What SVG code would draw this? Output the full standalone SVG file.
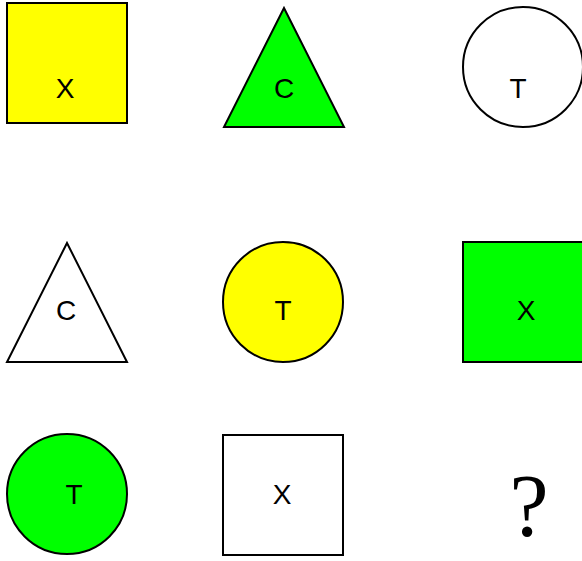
<svg xmlns="http://www.w3.org/2000/svg" width="582" height="561" viewBox="0 0 582 561">
<style>
.s{stroke:#000;stroke-width:2}
.y{fill:#ffff00}.g{fill:#00ff00}.w{fill:#fff}
.t{font-family:"Liberation Sans",Arial,sans-serif;font-size:28px;text-anchor:middle;fill:#000}
.q{font-family:"Liberation Serif","Times New Roman",serif;font-size:88px;text-anchor:middle;fill:#000}
</style>
<rect width="582" height="561" fill="#fff"/>
<g id="n1"><rect class="s y" x="7" y="3" width="120" height="120"/><text class="t" x="65" y="98">X</text></g>
<g id="n2"><polygon class="s g" points="284,8 224,127 344,127"/><text class="t" x="284" y="98">C</text></g>
<g id="n3"><circle class="s w" cx="523" cy="67" r="60"/><text class="t" x="518" y="98">T</text></g>
<g id="n4"><polygon class="s w" points="67,243 7,362 127,362"/><text class="t" x="66" y="320">C</text></g>
<g id="n5"><circle class="s y" cx="283" cy="302" r="60"/><text class="t" x="283" y="320">T</text></g>
<g id="n6"><rect class="s g" x="463" y="242" width="120" height="120"/><text class="t" x="526" y="320">X</text></g>
<g id="n7"><circle class="s g" cx="67" cy="494" r="60"/><text class="t" x="74" y="504">T</text></g>
<g id="n8"><rect class="s w" x="223" y="435" width="120" height="120"/><text class="t" x="282" y="504">X</text></g>
<g id="n9"><text class="q" x="529" y="535">?</text></g>
<g id="connectors"/>
</svg>
